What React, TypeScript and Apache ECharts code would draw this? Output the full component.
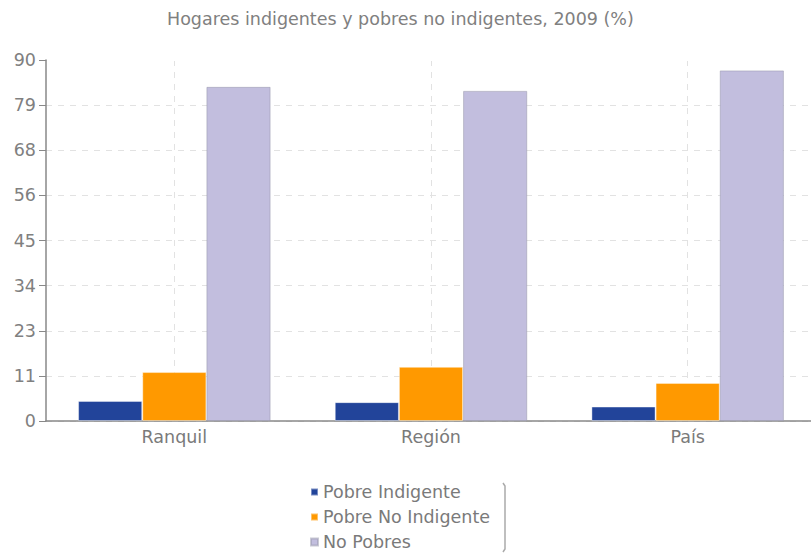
import React, { useEffect, useRef } from "react";
import * as echarts from "echarts";

const title = "Hogares indigentes y pobres no indigentes, 2009 (%)";
const categories = ["Ranquil", "Región", "País"];
const seriesNames = ["Pobre Indigente", "Pobre No Indigente", "No Pobres"];
const pobreIndigente = [5.0, 4.7, 3.6];
const pobreNoIndigente = [12.2, 13.5, 9.5];
const noPobres = [83.3, 82.3, 87.4];
const colors = ["#22449A", "#FF9900", "#C2BEDE"];
const yMax = 90;
const yInterval = 11.25;

export default function App() {
  const ref = useRef<HTMLDivElement>(null);
  useEffect(() => {
    if (!ref.current) return;
    const chart = echarts.init(ref.current, undefined, { renderer: "svg" });
    const font = "DejaVu Sans";
    const fs = 17.5;
    const values = [pobreIndigente, pobreNoIndigente, noPobres];
    const helperCats: string[] = [];
    for (let i = 0; i < categories.length * 2 + 1; i++) helperCats.push("h" + i);
    chart.setOption({
      animation: false,
      title: {
        text: title,
        left: 167,
        top: 10,
        padding: 0,
        textStyle: { fontFamily: font, fontSize: fs, fontWeight: "normal", color: "#808080" },
      },
      color: colors,
      grid: { left: 46, right: 0, top: 60, bottom: 134, containLabel: false },
      legend: {
        orient: "vertical",
        left: 310,
        top: 483,
        padding: 0,
        itemWidth: 7,
        itemHeight: 7,
        itemGap: 7,
        icon: "rect",
        data: seriesNames,
        textStyle: { fontFamily: font, fontSize: fs, lineHeight: 18, color: "#7a7a7a" },
      },
      xAxis: [
        {
          type: "category",
          data: categories,
          position: "bottom",
          axisLine: { lineStyle: { color: "#888", width: 1.5 } },
          axisTick: { alignWithLabel: true, length: 5, lineStyle: { color: "#888" } },
          axisLabel: { fontFamily: font, fontSize: fs, color: "#7a7a7a", margin: 7 },
          splitLine: { show: false },
        },
        {
          type: "category",
          data: helperCats,
          boundaryGap: false,
          position: "top",
          axisLine: { show: false },
          axisTick: { show: false },
          axisLabel: { show: false },
          splitLine: {
            show: true,
            interval: (i: number) => i % 2 === 1,
            lineStyle: { type: [6, 6], color: "#e2e2e2", width: 1 },
          },
        },
      ],
      yAxis: {
        type: "value",
        min: 0,
        max: yMax,
        interval: yInterval,
        axisLine: { show: true, lineStyle: { color: "#888", width: 1.5 } },
        axisTick: { show: true, length: 7, lineStyle: { color: "#888" } },
        axisLabel: {
          fontFamily: font,
          fontSize: fs,
          color: "#808080",
          margin: 10,
          formatter: (v: number) => String(Math.round(v)),
        },
        splitLine: { show: true, lineStyle: { type: [6, 6], color: "#e2e2e2", width: 1 } },
      },
      series: seriesNames.map((name, i) => ({
        name,
        type: "bar",
        data: values[i],
        xAxisIndex: 0,
        barGap: "0%",
        barCategoryGap: "25%",
        itemStyle: {
          color: colors[i],
          borderColor: i === 2 ? "rgba(150,150,170,0.5)" : "rgba(255,255,255,0.4)",
          borderWidth: 1,
        },
      })),
      graphic: [
        {
          type: "line",
          shape: { x1: 47, y1: 60, x2: 816, y2: 60 },
          style: { stroke: "#fff", lineWidth: 2 },
          z: 1,
        },
        {
          type: "polyline",
          shape: { points: [[503, 483], [505, 486], [505, 549], [503, 552]] },
          style: { stroke: "#aaa", lineWidth: 1.5, fill: null },
        },
      ],
    });
    return () => chart.dispose();
  }, []);
  return (
    <div style={{ position: "absolute", left: 0, top: 0, width: 811, height: 555, overflow: "hidden" }}>
      <div ref={ref} style={{ width: 816, height: 555 }} />
    </div>
  );
}
